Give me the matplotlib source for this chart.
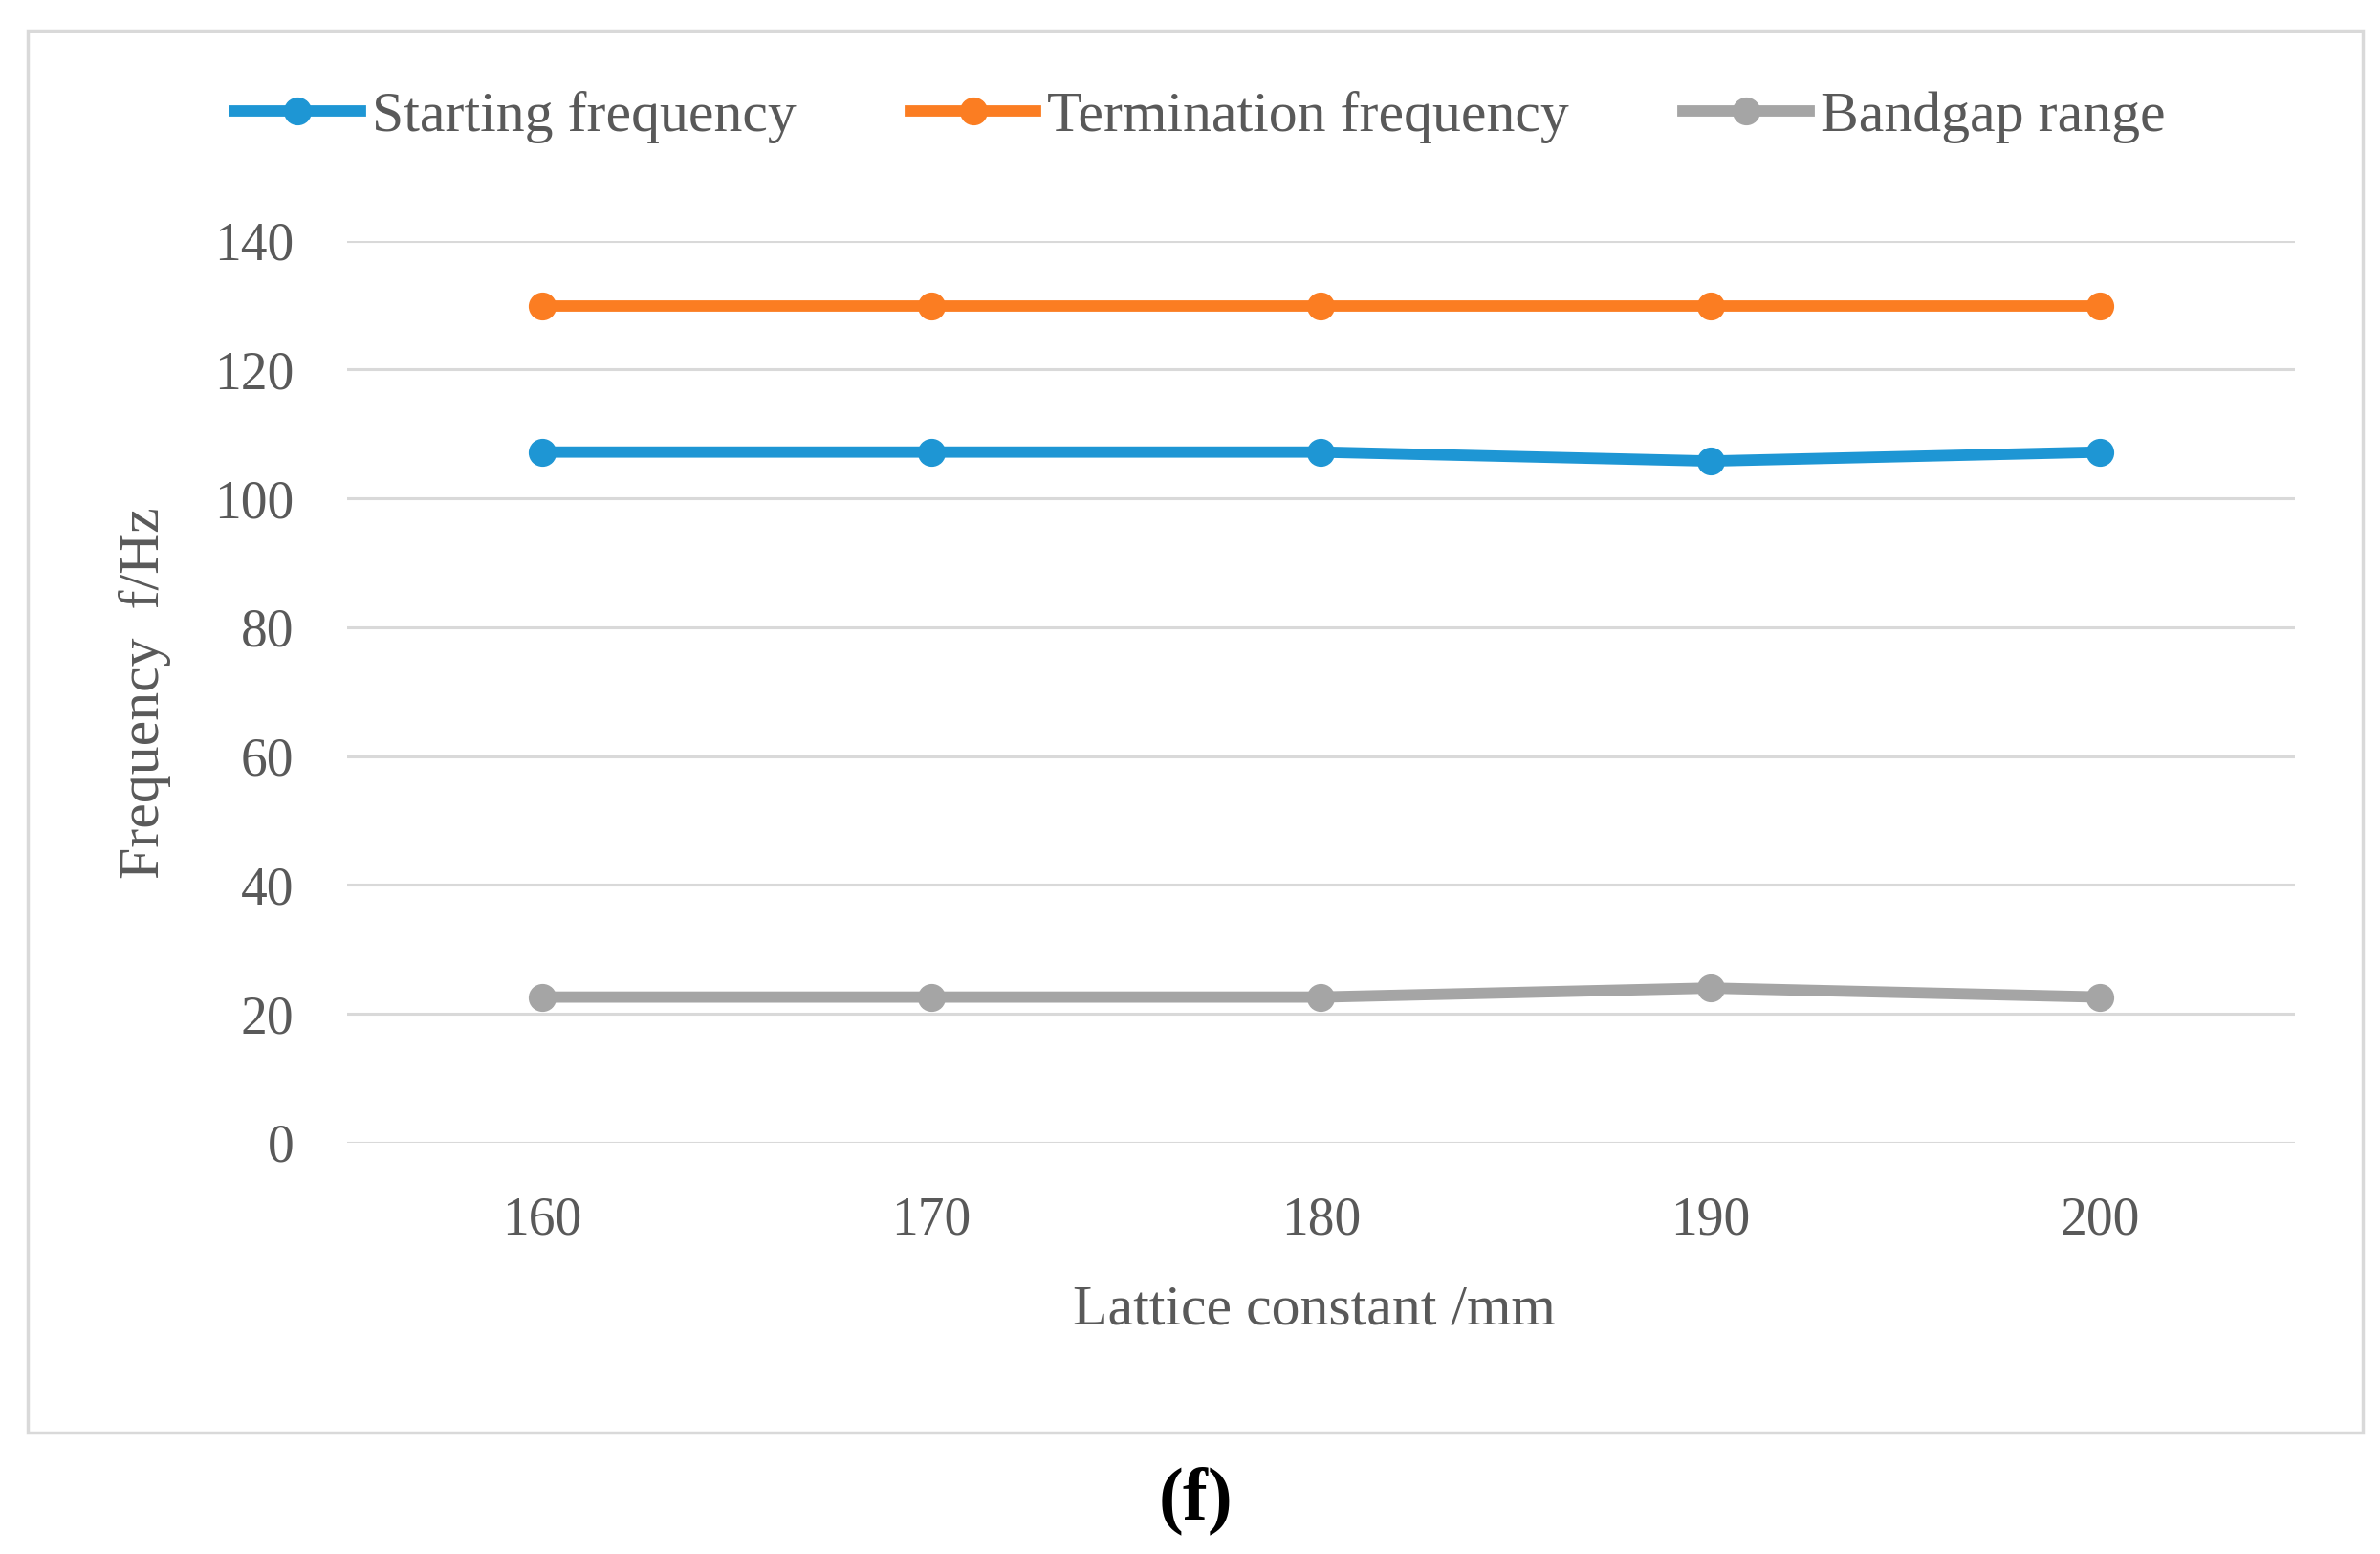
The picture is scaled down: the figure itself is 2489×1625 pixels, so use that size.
import numpy as np
import matplotlib.pyplot as plt
from matplotlib.patches import Rectangle

lattice = ['160', '170', '180', '190', '200']
starting = [107.2, 107.2, 107.2, 105.8, 107.2]
termination = [129.8, 129.8, 129.8, 129.8, 129.8]
bandgap = [22.6, 22.6, 22.6, 24.0, 22.6]

blue = '#1E96D4'
orange = '#FB7D22'
gray = '#A5A5A5'
txt = '#595959'
font = 'Liberation Serif'

fig = plt.figure(figsize=(24.89, 16.25), dpi=100)
fig.patches.append(Rectangle((18/1563, 1-940/1020), (1552-18)/1563, (940-20)/1020,
                             transform=fig.transFigure, fill=False,
                             edgecolor='#d9d9d9', linewidth=2.5))

ax = fig.add_axes([228/1563, 1-750/1020, (1507-228)/1563, (750-158)/1020])
x = np.arange(len(lattice))
ax.plot(x, starting, color=blue, lw=8.5, marker='o', ms=20, label='Starting frequency')
ax.plot(x, termination, color=orange, lw=8.5, marker='o', ms=20, label='Termination frequency')
ax.plot(x, bandgap, color=gray, lw=8.5, marker='o', ms=20, label='Bandgap range')

ax.set_xlim(-0.5, len(lattice) - 0.5)
ax.set_ylim(0, 140)
ax.set_yticks(range(0, 141, 20))
ax.set_xticks(x)
ax.set_xticklabels(lattice)
ax.grid(axis='y', color='#d9d9d9', lw=2.2)
ax.set_axisbelow(True)
for s in ax.spines.values():
    s.set_visible(False)
ax.tick_params(length=0, labelcolor=txt, labelsize=40, pad=40)
for lab in ax.get_xticklabels() + ax.get_yticklabels():
    lab.set_family(font)

fig.text(863/1563, 1-860/1020, 'Lattice constant /mm', ha='center', va='center',
         color=txt, fontsize=43, family=font)
fig.text(95/1563, 1-455/1020, 'Frequency  f/Hz', ha='center', va='center',
         rotation=90, color=txt, fontsize=43, family=font)
fig.text(785/1563, 1-985/1020, '(f)', ha='center', va='center',
         color='black', fontsize=56, family=font, fontweight='bold')

leg = fig.legend(loc='center', bbox_to_anchor=(788/1563, 1-77/1020), ncol=3,
                 frameon=False, handlelength=2.2, handletextpad=0.2,
                 columnspacing=2.0, prop={'family': font, 'size': 43})
for t in leg.get_texts():
    t.set_color(txt)

fig.savefig('out.png', dpi=100)
